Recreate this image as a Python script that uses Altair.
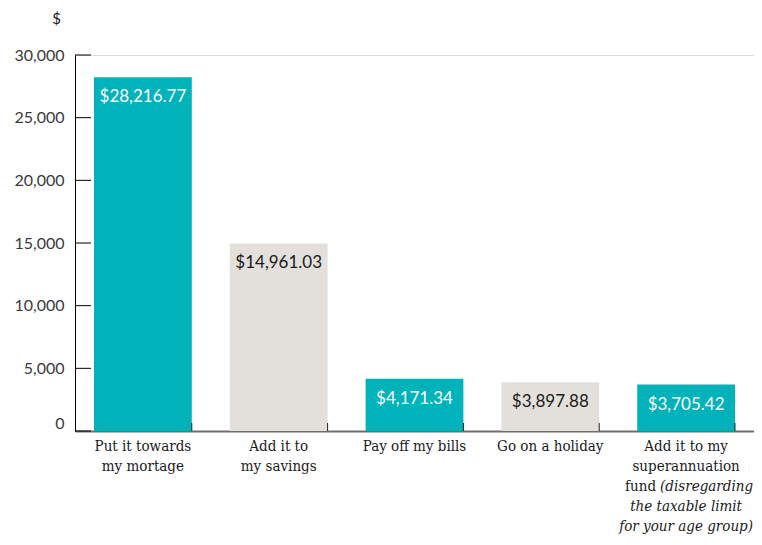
import altair as alt
import pandas as pd

categories = ["Put it towards my mortage", "Add it to my savings", "Pay off my bills",
              "Go on a holiday", "Add it to my superannuation fund"]
values = [28216.77, 14961.03, 4171.34, 3897.88, 3705.42]
value_labels = ["$28,216.77", "$14,961.03", "$4,171.34", "$3,897.88", "$3,705.42"]
bar_colors = ["#00B2B9", "#E3E0DC", "#00B2B9", "#E3E0DC", "#00B2B9"]
text_colors = ["#FFFFFF", "#1A1A1A", "#FFFFFF", "#1A1A1A", "#FFFFFF"]
y_ticks = [0, 5000, 10000, 15000, 20000, 25000, 30000]

# x label lines: (category index, line number, text, italic)
label_cat = [0, 0, 1, 1, 2, 3, 4, 4, 4, 4, 4, 4]
label_line = [0, 1, 0, 1, 0, 0, 0, 1, 2, 2, 3, 4]
label_text = ["Put it towards", "my mortage", "Add it to", "my savings", "Pay off my bills",
              "Go on a holiday", "Add it to my", "superannuation", "fund", "(disregarding",
              "the taxable limit", "for your age group)"]
label_italic = [False, False, False, False, False, False, False, False, False, True, True, True]
label_piece = ["c", "c", "c", "c", "c", "c", "c", "c", "l", "r", "c", "c"]

W, H = 679, 376
LH = 20
SERIF = "DejaVu Serif Condensed, DejaVu Serif"
SANS = "Lato"

df = pd.DataFrame({"cat": categories, "value": values, "label": value_labels,
                   "bcol": bar_colors, "tcol": text_colors})
lines = pd.DataFrame({"cat": [categories[i] for i in label_cat], "line": label_line,
                      "text": label_text, "italic": label_italic, "piece": label_piece})
ticks = pd.DataFrame({"t": y_ticks})

xscale = alt.Scale(domain=categories, paddingInner=0.28, paddingOuter=0.14)
yscale = alt.Scale(domain=[0, 30000], nice=False)

xaxis = alt.Axis(labels=False, ticks=False, title=None, domainColor="#6E6E6E",
                 domainWidth=2, grid=False)
yaxis = alt.Axis(values=y_ticks, labelExpr="format(datum.value, ',')",
                 ticks=False, grid=False,
                 domainColor="#000000", domainWidth=1, labelPadding=11,
                 labelFont=SANS, labelFontSize=16, labelColor="#3A3A3A",
                 labelBaseline=alt.expr("datum.value === 0 ? 'bottom' : 'middle'"),
                 title="$", titleAngle=0, titleX=-19, titleY=-37,
                 titleAlign="center", titleBaseline="middle",
                 titleFont=SANS, titleFontSize=15, titleFontWeight="normal",
                 titleColor="#1A1A1A")

bars = alt.Chart(df).mark_bar().encode(
    x=alt.X("cat:N", sort=categories, scale=xscale, axis=xaxis),
    y=alt.Y("value:Q", scale=yscale, axis=yaxis),
    color=alt.Color("bcol:N", scale=None),
)

vlabels = alt.Chart(df).mark_text(dy=20, baseline="middle", align="center",
                                  font=SANS, fontSize=17).encode(
    x=alt.X("cat:N", sort=categories, scale=xscale, axis=xaxis),
    y=alt.Y("value:Q", scale=yscale, axis=yaxis),
    text="label:N",
    color=alt.Color("tcol:N", scale=None),
)

yticks = alt.Chart(ticks).mark_rule(color="#000000", strokeWidth=1).encode(
    y=alt.Y("t:Q", scale=yscale, axis=yaxis),
    x=alt.value(0),
    x2=alt.value(16),
)

xticks = alt.Chart(df).mark_rule(color="#222222", strokeWidth=1).encode(
    x=alt.X("cat:N", sort=categories, scale=xscale, bandPosition=1, axis=xaxis),
    y=alt.value(H - 8),
    y2=alt.value(H),
)

layers = [bars, yticks, xticks, vlabels]
for ln in range(5):
    for italic in [False, True]:
        for piece, align, dx in [("c", "center", 0), ("l", "right", -30), ("r", "left", -26)]:
            sub = lines[(lines.line == ln) & (lines.italic == italic) & (lines.piece == piece)]
            if len(sub) == 0:
                continue
            layers.append(
                alt.Chart(lines).transform_filter(
                    (alt.datum.line == ln) & (alt.datum.italic == italic) & (alt.datum.piece == piece)
                ).mark_text(align=align, baseline="middle", dx=dx, dy=15 + LH * ln,
                            font=SERIF, fontSize=15, color="#1A1A1A",
                            fontStyle="italic" if italic else "normal").encode(
                    x=alt.X("cat:N", sort=categories, scale=xscale, axis=xaxis),
                    y=alt.value(H),
                    text="text:N",
                )
            )

chart = alt.layer(*layers).properties(
    width=W, height=H,
    autosize=alt.AutoSizeParams(type="none"),
    padding={"left": 67, "top": 47, "right": 0, "bottom": 106},
).configure_view(stroke=None).configure(background="#FFFFFF")

chart.save("out.html", embed_options={"renderer": "svg", "actions": False})
